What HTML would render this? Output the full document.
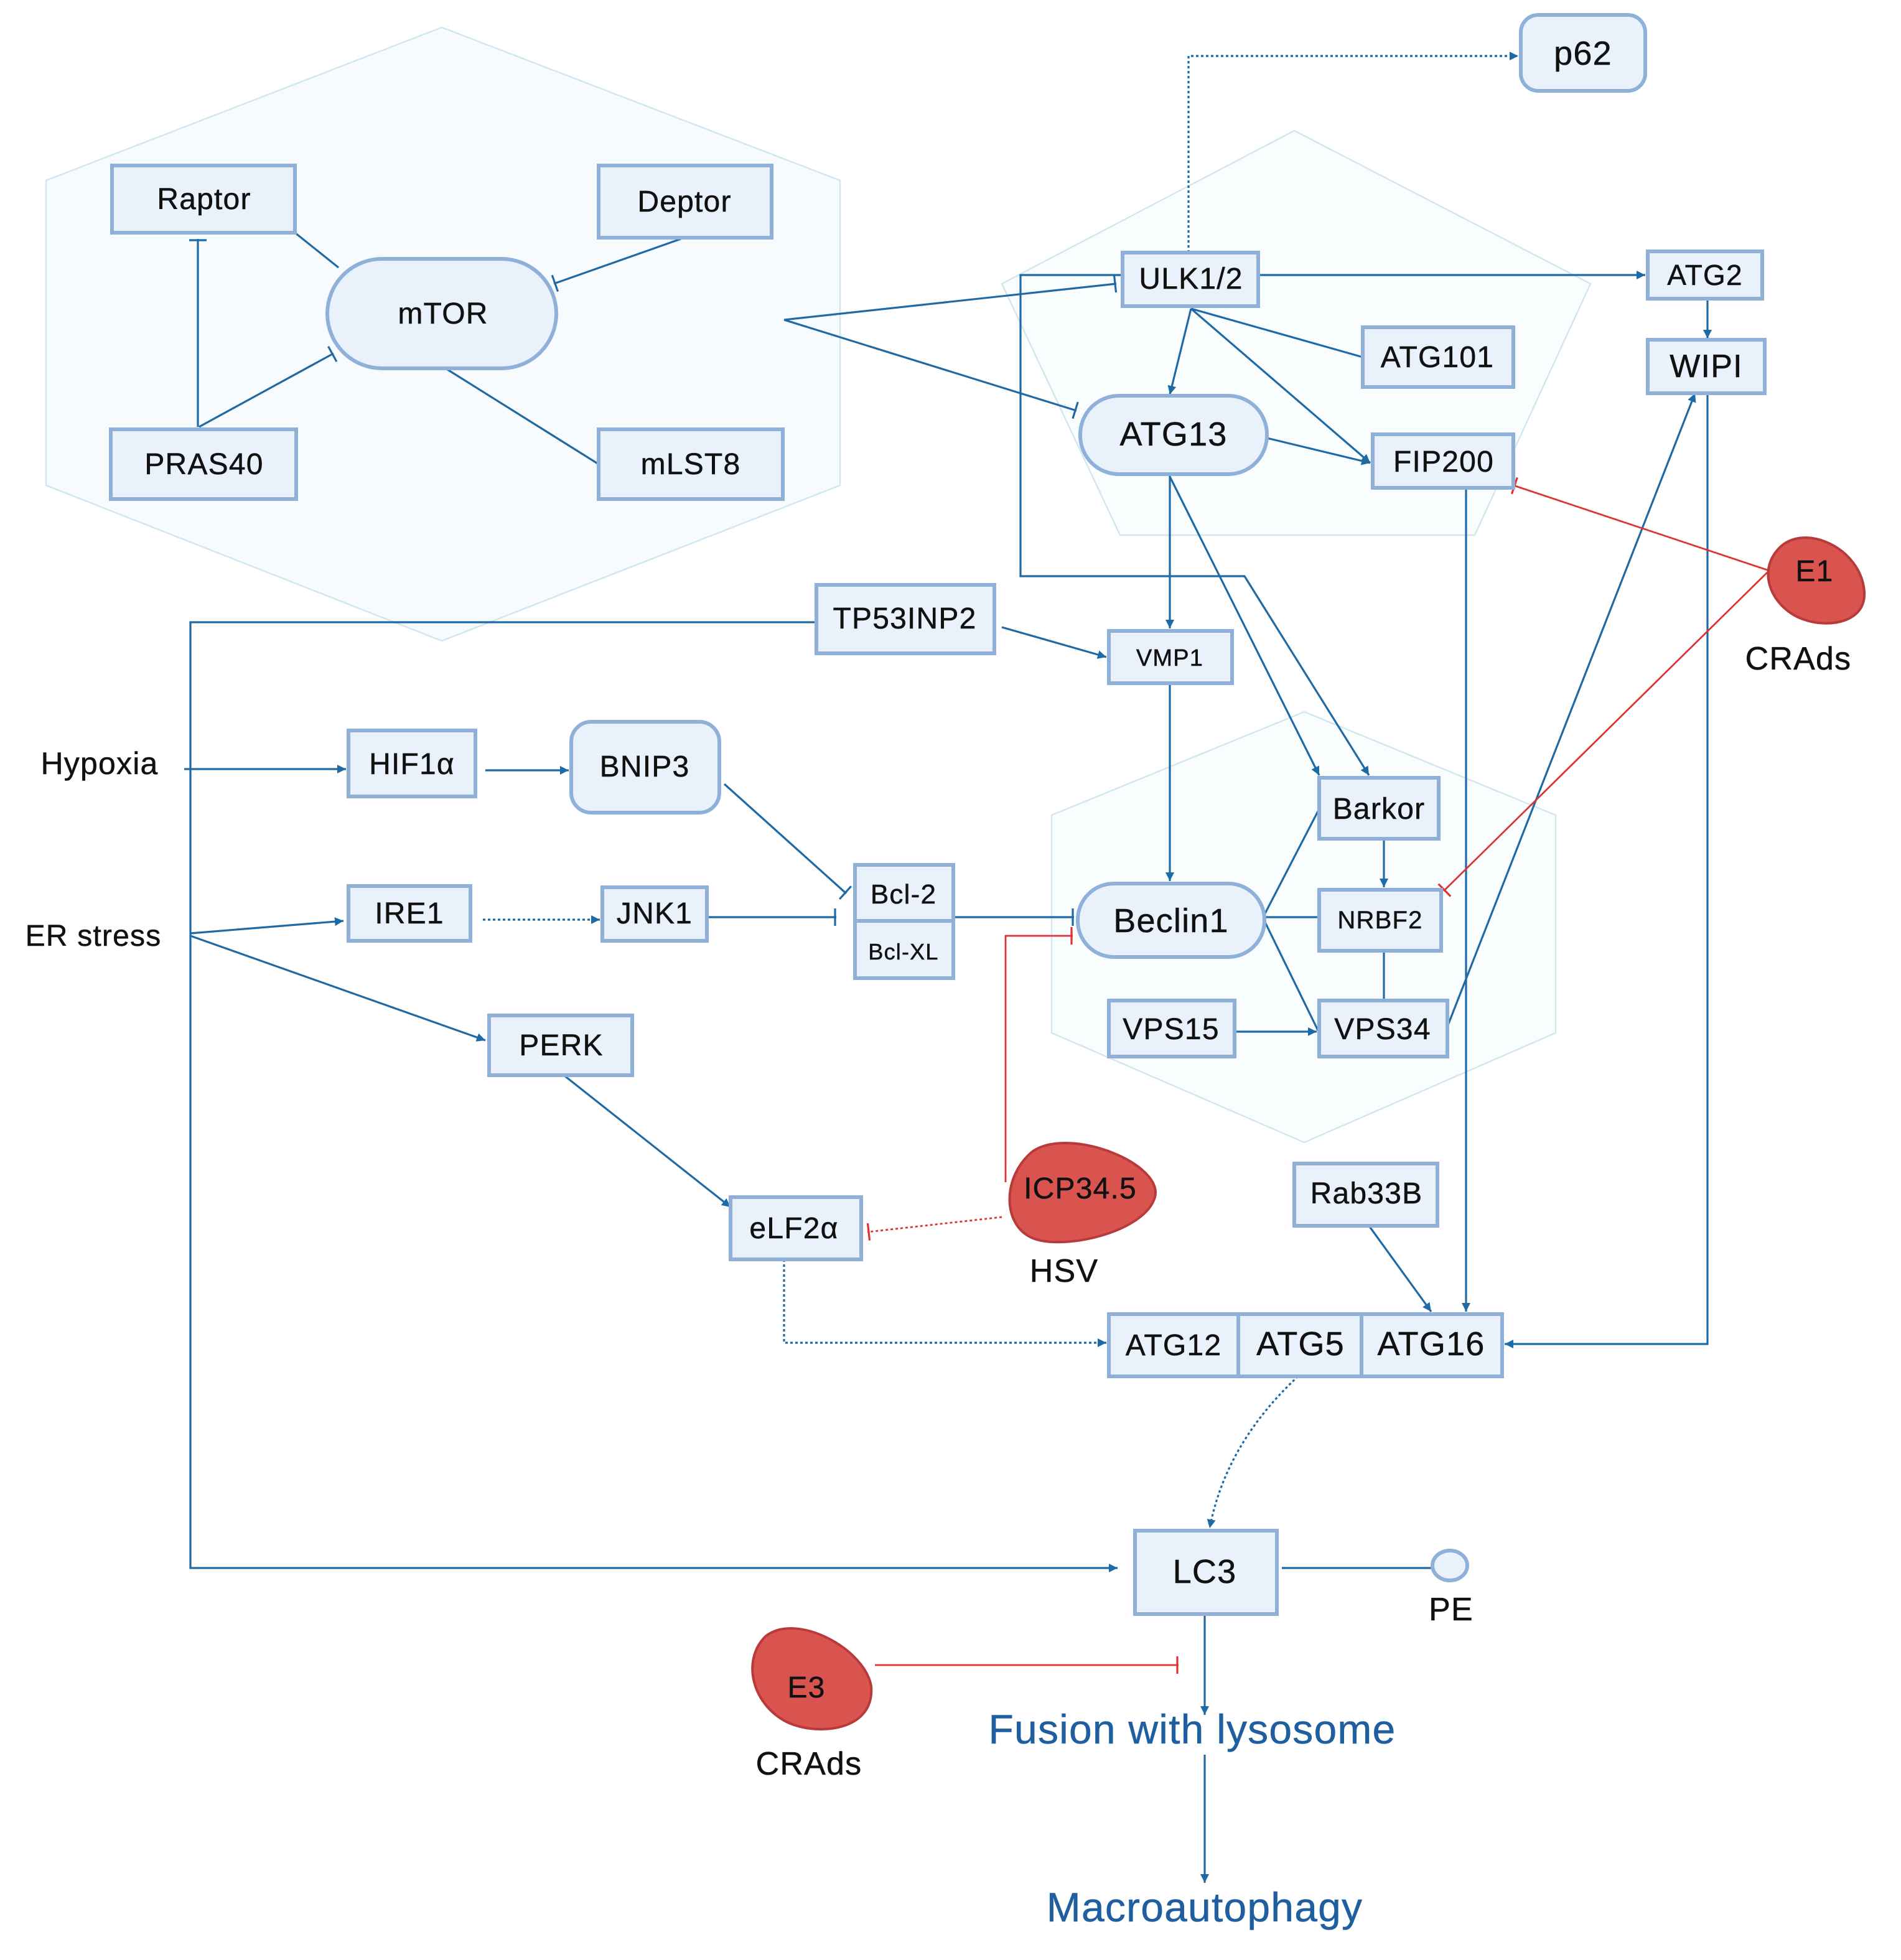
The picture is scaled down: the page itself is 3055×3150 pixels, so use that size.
<!DOCTYPE html>
<html><head><meta charset="utf-8"><style>
html,body{margin:0;padding:0;background:#fff}
svg{display:block}
text{font-family:"Liberation Sans",sans-serif;fill:#111;letter-spacing:0.6px;stroke:#111;stroke-width:0.25px}
</style></head><body>
<svg width="3055" height="3150" viewBox="0 0 1527.5 1575" xmlns="http://www.w3.org/2000/svg">
<defs>
<marker id="a" viewBox="0 0 10 10" refX="10" refY="5" markerWidth="7" markerHeight="7" markerUnits="userSpaceOnUse" orient="auto"><path d="M0,0L10,5L0,10z" fill="#1f6aa5"/></marker>
<marker id="t" viewBox="0 0 4 14" refX="3" refY="7" markerWidth="4" markerHeight="14" markerUnits="userSpaceOnUse" orient="auto"><path d="M2,0V14" stroke="#1f6aa5" stroke-width="1.6"/></marker>
<marker id="tr" viewBox="0 0 4 14" refX="3" refY="7" markerWidth="4" markerHeight="14" markerUnits="userSpaceOnUse" orient="auto"><path d="M2,0V14" stroke="#d33" stroke-width="1.6"/></marker>
</defs>
<rect width="1527.5" height="1575" fill="#fff"/>
<g fill="#f8fbfd" stroke="#cfe8ee" stroke-width="1.2">
<polygon points="355,22 675,145 675,390 355,515 37,390 37,145"/>
<polygon points="1040,105 1278,228 1185,430 900,430 805,228" fill="#fafdfe"/>
<polygon points="1048,572 1250,655 1250,830 1048,918 845,830 845,655" fill="#fafdfe"/>
</g>
<g stroke="#1f6aa5" stroke-width="1.6" fill="none">
<line x1="237" y1="187" x2="272" y2="215"/>
<line x1="547" y1="192" x2="445" y2="228" marker-end="url(#t)"/>
<line x1="160" y1="343" x2="268" y2="284" marker-end="url(#t)"/>
<line x1="159" y1="343" x2="159" y2="192" marker-end="url(#t)"/>
<line x1="358" y1="296" x2="481" y2="373"/>
<line x1="630" y1="257" x2="897" y2="228" marker-end="url(#t)"/>
<line x1="630" y1="257" x2="865" y2="330" marker-end="url(#t)"/>
<polyline points="902,221 820,221 820,463 1000,463 1100,623" marker-end="url(#a)"/>
<polyline points="955,203 955,45 1220,45" stroke-dasharray="2,2" marker-end="url(#a)"/>
<line x1="1011" y1="221" x2="1322" y2="221" marker-end="url(#a)"/>
<line x1="1372" y1="240" x2="1372" y2="272" marker-end="url(#a)"/>
<line x1="957" y1="248" x2="940" y2="317" marker-end="url(#a)"/>
<line x1="957" y1="248" x2="1101" y2="372" marker-end="url(#a)"/>
<line x1="957" y1="248" x2="1095" y2="287"/>
<line x1="1018" y1="352" x2="1101" y2="372" marker-end="url(#a)"/>
<line x1="940" y1="381" x2="940" y2="505" marker-end="url(#a)"/>
<line x1="940" y1="383" x2="1060" y2="623" marker-end="url(#a)"/>
<line x1="1178" y1="392" x2="1178" y2="1054" marker-end="url(#a)"/>
<polyline points="1372,316 1372,1080 1209,1080" marker-end="url(#a)"/>
<line x1="1163" y1="825" x2="1362" y2="316" marker-end="url(#a)"/>
<polyline points="656,500 153,500 153,1260 898,1260" marker-end="url(#a)"/>
<line x1="805" y1="504" x2="889" y2="528" marker-end="url(#a)"/>
<line x1="940" y1="549" x2="940" y2="708" marker-end="url(#a)"/>
<line x1="148" y1="618" x2="278" y2="618" marker-end="url(#a)"/>
<line x1="390" y1="619" x2="457" y2="619" marker-end="url(#a)"/>
<line x1="582" y1="630" x2="680" y2="718" marker-end="url(#t)"/>
<line x1="153" y1="750" x2="276" y2="740" marker-end="url(#a)"/>
<line x1="153" y1="752" x2="390" y2="836" marker-end="url(#a)"/>
<line x1="388" y1="739" x2="482" y2="739" stroke-dasharray="2,2" marker-end="url(#a)"/>
<line x1="568" y1="737" x2="672" y2="737" marker-end="url(#t)"/>
<line x1="766" y1="737" x2="863" y2="737" marker-end="url(#t)"/>
<line x1="453" y1="864" x2="587" y2="970" marker-end="url(#a)"/>
<polyline points="630,1012 630,1079 889,1079" stroke-dasharray="2,2" marker-end="url(#a)"/>
<line x1="1016" y1="735" x2="1060" y2="650"/>
<line x1="1016" y1="737" x2="1060" y2="737"/>
<line x1="1016" y1="740" x2="1060" y2="830"/>
<line x1="1112" y1="674" x2="1112" y2="713" marker-end="url(#a)"/>
<line x1="1112" y1="764" x2="1112" y2="804"/>
<line x1="992" y1="829" x2="1058" y2="829" marker-end="url(#a)"/>
<line x1="1100" y1="985" x2="1150" y2="1054" marker-end="url(#a)"/>
<path d="M1043,1106 Q985,1160 972,1228" stroke-dasharray="2,2" marker-end="url(#a)"/>
<line x1="1030" y1="1260" x2="1150" y2="1260"/>
<line x1="968" y1="1297" x2="968" y2="1378" marker-end="url(#a)"/>
<line x1="968" y1="1410" x2="968" y2="1513" marker-end="url(#a)"/>
</g>
<g stroke="#d33" stroke-width="1.4" fill="none">
<line x1="1420" y1="458" x2="1216" y2="390" marker-end="url(#tr)"/>
<line x1="1420" y1="460" x2="1160" y2="716" marker-end="url(#tr)"/>
<polyline points="808,950 808,752 862,752" marker-end="url(#tr)"/>
<line x1="805" y1="978" x2="697" y2="990" stroke-dasharray="2,2" marker-end="url(#tr)"/>
<line x1="703" y1="1338" x2="947" y2="1338" marker-end="url(#tr)"/>
</g>
<g fill="#e9f1fb" stroke="#8fb0d8" stroke-width="3">
<rect x="90" y="133" width="147" height="54"/>
<rect x="481" y="133" width="139" height="58"/>
<rect x="263" y="208" width="184" height="88" rx="44"/>
<rect x="89" y="345" width="149" height="56"/>
<rect x="481" y="345" width="148" height="56"/>
<rect x="902" y="203" width="109" height="43"/>
<rect x="1324" y="202" width="92" height="38"/>
<rect x="1095" y="263" width="121" height="48"/>
<rect x="1324" y="273" width="94" height="43"/>
<rect x="868" y="318" width="150" height="63" rx="31"/>
<rect x="1103" y="349" width="113" height="43"/>
<rect x="1222" y="12" width="100" height="61" rx="14"/>
<rect x="656" y="470" width="143" height="55"/>
<rect x="891" y="507" width="99" height="42"/>
<rect x="280" y="587" width="102" height="53"/>
<rect x="459" y="580" width="119" height="73" rx="16"/>
<rect x="1060" y="625" width="96" height="49"/>
<rect x="687" y="695" width="79" height="45"/>
<rect x="687" y="740" width="79" height="46"/>
<rect x="280" y="712" width="98" height="44"/>
<rect x="484" y="713" width="84" height="43"/>
<rect x="866" y="710" width="150" height="59" rx="29"/>
<rect x="1060" y="715" width="98" height="49"/>
<rect x="891" y="804" width="101" height="45"/>
<rect x="1060" y="804" width="103" height="45"/>
<rect x="393" y="816" width="115" height="48"/>
<rect x="587" y="962" width="105" height="50"/>
<rect x="1040" y="935" width="115" height="50"/>
<rect x="891" y="1056" width="104" height="50"/>
<rect x="995" y="1056" width="99" height="50"/>
<rect x="1094" y="1056" width="113" height="50"/>
<rect x="912" y="1230" width="114" height="67"/>
<ellipse cx="1165" cy="1258" rx="14" ry="12"/>
</g>
<g fill="#d9534f" stroke="#b83a3a" stroke-width="2">
<path d="M1430,440 C1450,420 1495,440 1498,475 C1500,500 1470,505 1450,498 C1425,490 1410,460 1430,440z"/>
<path d="M830,925 C860,905 935,935 928,962 C920,990 855,1005 830,995 C805,985 805,945 830,925z"/>
<path d="M615,1315 C640,1295 695,1325 700,1355 C703,1390 660,1395 635,1385 C605,1372 595,1335 615,1315z"/>
</g>
<g font-size="24" text-anchor="middle">
<text x="164" y="168">Raptor</text>
<text x="550" y="170">Deptor</text>
<text x="356" y="260">mTOR</text>
<text x="164" y="381">PRAS40</text>
<text x="555" y="381">mLST8</text>
<text x="957" y="232">ULK1/2</text>
<text x="1370" y="229" font-size="23">ATG2</text>
<text x="1155" y="295">ATG101</text>
<text x="1371" y="303" font-size="26">WIPI</text>
<text x="943" y="358" font-size="27">ATG13</text>
<text x="1160" y="379">FIP200</text>
<text x="1272" y="52" font-size="27">p62</text>
<text x="727" y="505">TP53INP2</text>
<text x="940" y="535" font-size="19">VMP1</text>
<text x="331" y="622">HIF1α</text>
<text x="518" y="624">BNIP3</text>
<text x="1108" y="658">Barkor</text>
<text x="726" y="726" font-size="22">Bcl-2</text>
<text x="726" y="771" font-size="18">Bcl-XL</text>
<text x="329" y="742">IRE1</text>
<text x="526" y="742">JNK1</text>
<text x="941" y="749" font-size="27">Beclin1</text>
<text x="1109" y="746" font-size="20">NRBF2</text>
<text x="941" y="835">VPS15</text>
<text x="1111" y="835">VPS34</text>
<text x="451" y="848">PERK</text>
<text x="638" y="995">eLF2α</text>
<text x="1098" y="967">Rab33B</text>
<text x="943" y="1089">ATG12</text>
<text x="1045" y="1089" font-size="27">ATG5</text>
<text x="1150" y="1089" font-size="27">ATG16</text>
<text x="968" y="1272" font-size="27">LC3</text>
<text x="1458" y="467">E1</text>
<text x="868" y="963">ICP34.5</text>
<text x="648" y="1364">E3</text>
<text x="80" y="622" font-size="25">Hypoxia</text>
<text x="75" y="760" font-size="24">ER stress</text>
<text x="1445" y="538" font-size="26">CRAds</text>
<text x="855" y="1030" font-size="26">HSV</text>
<text x="1166" y="1302" font-size="26">PE</text>
<text x="650" y="1426" font-size="26">CRAds</text>
<text x="958" y="1401" font-size="33" style="fill:#1f5f9f;stroke:#1f5f9f">Fusion with lysosome</text>
<text x="968" y="1544" font-size="33" style="fill:#1f5f9f;stroke:#1f5f9f">Macroautophagy</text>
</g>
</svg>
</body></html>
